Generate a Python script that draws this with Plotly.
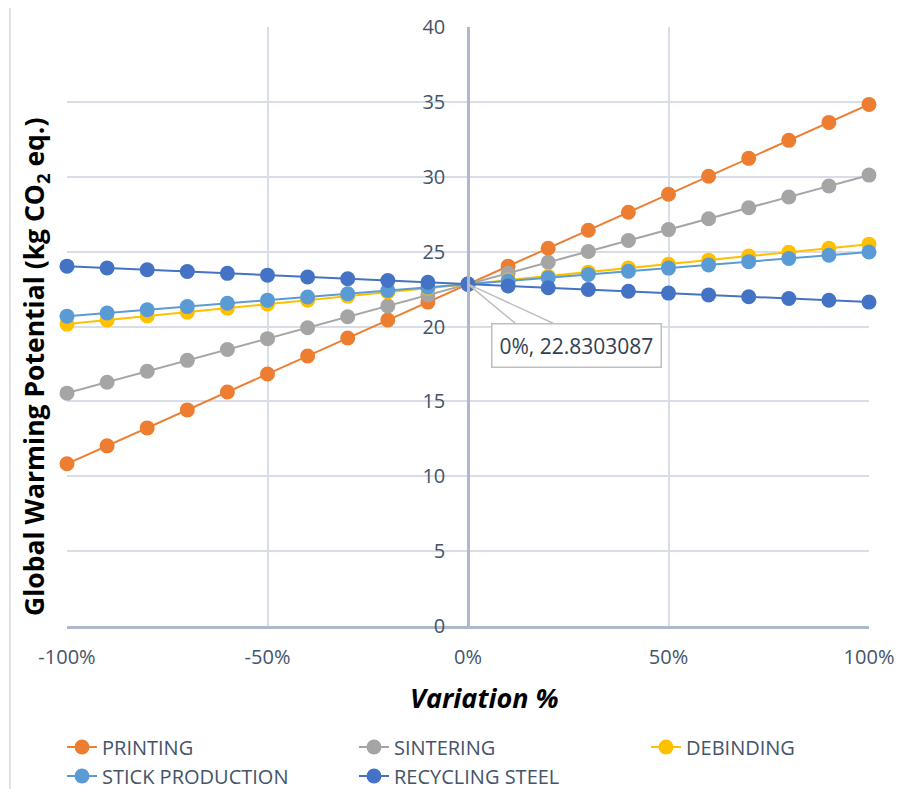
import plotly.graph_objects as go

variation = [-1.0, -0.9, -0.8, -0.7, -0.6, -0.5, -0.4, -0.3, -0.2, -0.1, 0.0,
             0.1, 0.2, 0.3, 0.4, 0.5, 0.6, 0.7, 0.8, 0.9, 1.0]

printing = [10.83, 12.03, 13.23, 14.43, 15.63, 16.83, 18.03, 19.23, 20.43, 21.63, 22.83,
            24.03, 25.23, 26.43, 27.63, 28.83, 30.03, 31.23, 32.43, 33.63, 34.83]
sintering = [15.55, 16.28, 17.01, 17.74, 18.46, 19.19, 19.92, 20.65, 21.37, 22.10, 22.83,
             23.56, 24.29, 25.01, 25.74, 26.47, 27.20, 27.93, 28.65, 29.38, 30.11]
debinding = [20.16, 20.43, 20.70, 20.96, 21.23, 21.50, 21.76, 22.03, 22.30, 22.56, 22.83,
             23.10, 23.36, 23.63, 23.90, 24.16, 24.43, 24.70, 24.96, 25.23, 25.50]
stick = [20.69, 20.90, 21.12, 21.33, 21.55, 21.76, 21.97, 22.19, 22.40, 22.62, 22.83,
         23.04, 23.26, 23.47, 23.69, 23.90, 24.11, 24.33, 24.54, 24.76, 24.97]
recycling = [24.03, 23.91, 23.79, 23.67, 23.55, 23.43, 23.31, 23.19, 23.07, 22.95, 22.83,
             22.71, 22.59, 22.47, 22.35, 22.23, 22.11, 21.99, 21.87, 21.75, 21.63]

series_names = ["PRINTING", "SINTERING", "DEBINDING", "STICK PRODUCTION", "RECYCLING STEEL"]
series_values = [printing, sintering, debinding, stick, recycling]
colors = ["#ED7D31", "#A5A5A5", "#FFC000", "#5B9BD5", "#4472C4"]
legend_ids = ["legend", "legend", "legend3", "legend2", "legend2"]

x_ticks = [-1.0, -0.5, 0.0, 0.5, 1.0]
x_tick_labels = ["-100%", "-50%", "0%", "50%", "100%"]
y_ticks = [0, 5, 10, 15, 20, 25, 30, 35, 40]

label_x = 0.0
label_y = 22.8303087

font_family = "Open Sans, sans-serif"
tick_color = "#44546A"
grid_color = "#D9DEE6"
axis_color = "#ADB9CA"

fig = go.Figure()
for name, vals, col, lg in zip(series_names, series_values, colors, legend_ids):
    fig.add_trace(go.Scatter(
        x=variation, y=vals, name=name, mode="lines+markers",
        line=dict(color=col, width=2),
        marker=dict(color=col, size=15),
        cliponaxis=False, legend=lg,
    ))

# Outer chart border
fig.add_shape(type="rect", xref="paper", yref="paper",
              x0=(10 - 67) / 802, x1=1.2, y0=-0.5, y1=1 + (27 - 7) / 599,
              line=dict(color="#D9D9D9", width=1.5), layer="below")

# Data label callout
fig.add_shape(type="path", xref="x", yref="y",
              path=f"M {label_x + 0.132},19.9 L {label_x},{label_y} L {label_x + 0.238},19.9",
              line=dict(color="#BFBFBF", width=1.5))
fig.add_annotation(x=0.0575, y=18.75, xref="x", yref="y", xanchor="left", yanchor="middle",
                   text=f"0%, {label_y}", showarrow=False,
                   font=dict(family="Open Sans, sans-serif", size=21, color="#333F50"),
                   bordercolor="#BFBFBF", borderwidth=1.5, borderpad=7, bgcolor="white")

# Axis titles
fig.add_annotation(xref="paper", yref="paper", x=(36 - 67) / 802, y=(626 - 367) / 599,
                   xanchor="center", yanchor="middle",
                   text="Global Warming Potential (kg CO<sub>2</sub> eq.)", textangle=-90,
                   showarrow=False, font=dict(family="Open Sans, sans-serif", size=26.5, color="black",
                                               weight="bold"))
fig.add_annotation(xref="paper", yref="paper", x=(485 - 67) / 802, y=(626 - 697) / 599,
                   xanchor="center", yanchor="middle",
                   text="<b><i>Variation %</i></b>", showarrow=False,
                   font=dict(family="Open Sans, sans-serif", size=27, color="black"))

legend_common = dict(orientation="h", xanchor="left", yanchor="middle",
                     entrywidth=247, entrywidthmode="pixels", tracegroupgap=0,
                     font=dict(family=font_family, size=20, color=tick_color),
                     bgcolor="rgba(0,0,0,0)")

# The page body has an 8px margin, so the figure is shrunk by 8px and the margins shifted.
fig.update_layout(
    width=894, height=781,
    margin=dict(l=59, r=33, t=19, b=163, autoexpand=False),
    plot_bgcolor="white", paper_bgcolor="white",
    showlegend=True,
    xaxis=dict(range=[-1, 1], tickvals=x_ticks, ticktext=x_tick_labels,
               showgrid=True, gridcolor=grid_color, gridwidth=1.5, zeroline=False,
               showline=True, linecolor=axis_color, linewidth=2.5,
               tickfont=dict(family=font_family, size=20, color=tick_color),
               ticks="", ticklabelstandoff=11, automargin=False),
    yaxis=dict(range=[0, 40], tickvals=y_ticks, anchor="free", position=0.5,
               showgrid=True, gridcolor=grid_color, gridwidth=1.5, zeroline=False,
               showline=True, linecolor=axis_color, linewidth=2.5,
               tickfont=dict(family=font_family, size=20, color=tick_color),
               ticks="", ticklabelstandoff=18, automargin=False),
    legend=dict(x=(62 - 67) / 802, y=(626 - 747) / 599, **legend_common),
    legend2=dict(x=(62 - 67) / 802, y=(626 - 776) / 599, **legend_common),
    legend3=dict(x=(646 - 67) / 802, y=(626 - 747) / 599, **legend_common),
)

fig.write_html("out.html")
